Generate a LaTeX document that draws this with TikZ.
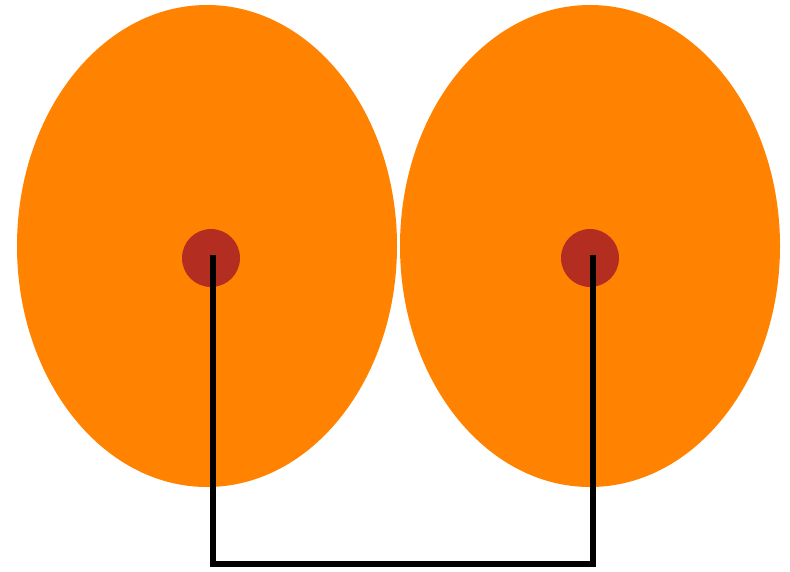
\documentclass[tikz,border=0pt]{standalone}
\usetikzlibrary{shapes.geometric}
\definecolor{lobe}{HTML}{FF8300}
\definecolor{nucleus}{HTML}{B32E20}
\tikzset{
  lobestyle/.style={ellipse, fill=lobe, draw=none, minimum width=380pt, minimum height=482pt, inner sep=0pt},
  dotstyle/.style={circle, fill=nucleus, draw=none, minimum size=58pt, inner sep=0pt},
  bond/.style={draw=black, line width=6pt, line cap=rect, line join=miter}
}
\begin{document}
\begin{tikzpicture}[x=1pt,y=-1pt]
\useasboundingbox (0,0) rectangle (790,571);
\node[lobestyle] (L) at (207,246) {};
\node[lobestyle] (R) at (590,246) {};
\node[dotstyle] (a) at (211,258) {};
\node[dotstyle] (b) at (590,258) {};
\coordinate (bot) at (400,564);
\draw[bond] ([xshift=2pt]a.center) -- ([xshift=2pt]a.center |- bot) -| ([xshift=3pt]b.center);
\end{tikzpicture}
\end{document}
